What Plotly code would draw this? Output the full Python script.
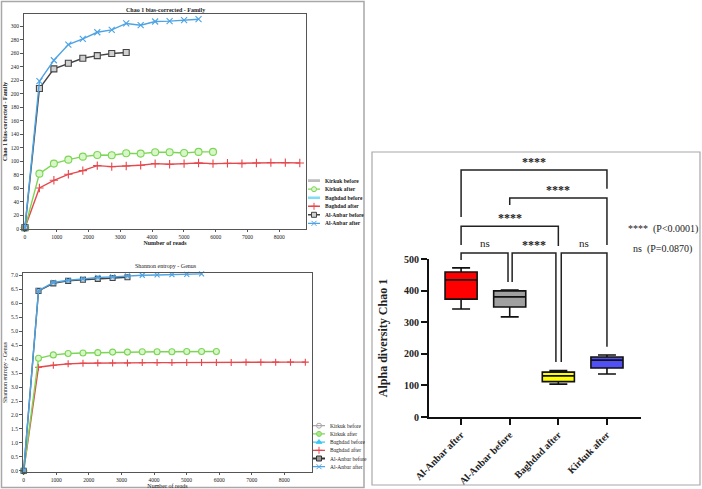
import plotly.graph_objects as go

W, H = 702, 489
FONT = "Liberation Serif"

def fx(p):
    return p / W

def fy(p):
    return 1 - p / H

# ---------------- data ----------------
depth = [0, 455, 910, 1365, 1820, 2275, 2730, 3185, 3640, 4095,
         4550, 5005, 5460, 5915, 6370, 6825, 7280, 7735, 8190, 8645]

chao_anbar_after = [2, 218.6, 249.6, 272.8, 281.2, 291, 294.5, 304, 301.4, 306.9, 307.4, 308.8, 310.3]
chao_anbar_before = [2, 207.7, 236.8, 245.2, 252.6, 256.5, 259.5, 261]
chao_kirkuk_after = [2, 81.9, 96.7, 102.6, 107, 109.5, 109, 112, 111.5, 113.5, 113.5, 112.5, 114, 114]
chao_baghdad_after = [2, 60.7, 72, 80.9, 86.3, 93.7, 92.3, 93.2, 94.2, 96.7, 95.7, 96.7, 97.7,
                      96.7, 97.2, 96.7, 97.7, 98.2, 98.2, 97.7]

sh_anbar_after = [0, 6.45, 6.74, 6.82, 6.87, 6.92, 6.94, 6.98, 7.0, 7.01, 7.02, 7.03, 7.05]
sh_anbar_before = [0, 6.44, 6.71, 6.80, 6.84, 6.87, 6.90, 6.93]
sh_kirkuk_after = [0, 4.03, 4.15, 4.20, 4.22, 4.23, 4.25, 4.25, 4.26, 4.26, 4.26, 4.27, 4.27, 4.27]
sh_baghdad_after = [0, 3.71, 3.78, 3.83, 3.85, 3.86, 3.86, 3.86, 3.875, 3.875, 3.875, 3.88, 3.88,
                    3.88, 3.88, 3.885, 3.885, 3.89, 3.89, 3.89]

legend_names = ["Kirkuk before", "Kirkuk after", "Baghdad before",
                "Baghdad after", "Al-Anbar before", "Al-Anbar after"]

box_categories = ["Al-Anbar after", "Al-Anbar before", "Baghdad after", "Kirkuk after"]
box_min = [342, 317, 104, 136]
box_q1 = [373, 348, 112, 155]
box_median = [434, 380, 130, 180]
box_q3 = [459, 399, 142, 190]
box_max = [472, 402, 147, 196]
box_colors = ["#FF0000", "#A0A0A0", "#FFFF00", "#5050F5"]

# comparisons: (left x, right x, bar level, left leg end, right leg end, label)
comparisons = [
    (0.0, 3.0, 782, 633, 722, "****"),
    (1.0, 3.0, 693, 671, 544, "****"),
    (0.0, 2.0, 604, 544, 541, "****"),
    (0.0, 0.965, 519, 497, 427, "ns"),
    (1.05, 1.95, 519, 427, 174, "****"),
    (2.06, 3.0, 519, 174, 222, "ns"),
]

# ---------------- styles ----------------
C_BLUE = "#4DA3E3"
C_DARK = "#444444"
C_GREEN = "#7CD655"
C_RED = "#E5484D"
C_GREY = "#BDBDBD"
C_CYAN = "#7FDDF5"

fig = go.Figure()

def line_trace(x, y, color, symbol, xa, ya, msize=6, mfill=None, lw=1.4):
    return go.Scatter(
        x=x, y=y, mode="lines+markers", xaxis=xa, yaxis=ya, showlegend=False,
        line=dict(color=color, width=lw),
        marker=dict(symbol=symbol, size=msize, color=mfill if mfill else color,
                    line=dict(color=color, width=1.1)),
        cliponaxis=False, hoverinfo="skip")

# Chart 1: Chao1 Family
fig.add_trace(line_trace(depth[:len(chao_baghdad_after)], chao_baghdad_after, C_RED, "cross-thin-open", "x", "y"))
fig.add_trace(line_trace(depth[:len(chao_kirkuk_after)], chao_kirkuk_after, C_GREEN, "circle", "x", "y", 7, "#D9F5CA"))
fig.add_trace(line_trace(depth[:len(chao_anbar_before)], chao_anbar_before, C_DARK, "square", "x", "y", 6, "#D0D0D0"))
fig.add_trace(line_trace(depth[:len(chao_anbar_after)], chao_anbar_after, C_BLUE, "x-thin-open", "x", "y"))

# Chart 2: Shannon Genus
fig.add_trace(line_trace(depth[:len(sh_baghdad_after)], sh_baghdad_after, C_RED, "cross-thin-open", "x2", "y2", 5))
fig.add_trace(line_trace(depth[:len(sh_kirkuk_after)], sh_kirkuk_after, C_GREEN, "circle", "x2", "y2", 6, "#D9F5CA"))
fig.add_trace(line_trace(depth[:len(sh_anbar_before)], sh_anbar_before, C_DARK, "square", "x2", "y2", 5, "#D0D0D0"))
fig.add_trace(line_trace(depth[:len(sh_anbar_after)], sh_anbar_after, C_BLUE, "x-thin-open", "x2", "y2", 5))

# Manual legends (legend axes measured in pixels: symbol 0..12, label from 15)
leg1 = [
    (C_GREY, None, None, 2.6),
    (C_GREEN, "circle", "#D9F5CA", 1.3),
    (C_CYAN, None, None, 2.6),
    (C_RED, "cross-thin-open", None, 1.3),
    (C_DARK, "square", "#D0D0D0", 1.6),
    (C_BLUE, "x-thin-open", None, 1.3),
]
leg2 = [
    ("#A8A8A8", "circle-open", None, 1.2),
    (C_GREEN, "circle", "#A8E890", 1.3),
    ("#3DC8F0", "triangle-up", None, 1.2),
    (C_RED, "cross-thin-open", None, 1.2),
    ("#333333", "square", "#999999", 2.0),
    (C_BLUE, "x-thin-open", None, 1.2),
]
for (xa, ya, spec, bold) in [("x5", "y5", leg1, True), ("x6", "y6", leg2, False)]:
    for i, (col, sym, fill, lw) in enumerate(spec):
        fig.add_trace(go.Scatter(x=[0, 12], y=[i, i], mode="lines", xaxis=xa, yaxis=ya,
                                 line=dict(color=col, width=lw), showlegend=False,
                                 cliponaxis=False, hoverinfo="skip"))
        if sym:
            fig.add_trace(go.Scatter(x=[6], y=[i], mode="markers", xaxis=xa, yaxis=ya,
                                     marker=dict(symbol=sym, size=5, color=fill if fill else col,
                                                 line=dict(color=col, width=1)),
                                     showlegend=False, cliponaxis=False, hoverinfo="skip"))
        fig.add_annotation(x=15, y=i, xref=xa, yref=ya, showarrow=False,
                           xanchor="left", yanchor="middle",
                           text=f"<b>{legend_names[i]}</b>" if bold else legend_names[i],
                           font=dict(family=FONT, size=5.5, color="#222"))

# Box plot
for i, cat in enumerate(box_categories):
    fig.add_trace(go.Box(
        x=[i], q1=[box_q1[i]], median=[box_median[i]], q3=[box_q3[i]],
        lowerfence=[box_min[i]], upperfence=[box_max[i]], name=cat,
        xaxis="x3", yaxis="y3", width=0.66, whiskerwidth=0.56,
        fillcolor=box_colors[i], line=dict(color="#111111", width=1.6),
        boxpoints=False, showlegend=False, hoverinfo="skip"))

# Significance brackets
for (xl, xr, bar, lb, rb, lab) in comparisons:
    fig.add_trace(go.Scatter(
        x=[xl, xl, xr, xr], y=[lb, bar, bar, rb], mode="lines",
        xaxis="x3", yaxis="y4", line=dict(color="#222222", width=1.5),
        showlegend=False, cliponaxis=False, hoverinfo="skip"))
    if lab == "****":
        fig.add_annotation(x=(xl + xr) / 2, y=bar, xref="x3", yref="y4", text="<b>****</b>",
                           showarrow=False, xanchor="center", yanchor="bottom", yshift=-1,
                           font=dict(family=FONT, size=12, color="#222"))
    else:
        fig.add_annotation(x=(xl + xr) / 2, y=bar, xref="x3", yref="y4", text="ns",
                           showarrow=False, xanchor="center", yanchor="bottom", yshift=2,
                           font=dict(family=FONT, size=11, color="#222"))

# ---------------- layout ----------------
small = dict(family=FONT, size=5.5, color="#222")
frame = dict(showline=True, mirror=True, linecolor="#555", linewidth=1, ticks="outside",
             ticklen=3, tickwidth=1, tickcolor="#555", showgrid=False, zeroline=False,
             tickfont=small, automargin=False)
xframe = dict(frame, ticklen=2)

fig.update_layout(
    template="none",
    width=W, height=H, margin=dict(l=0, r=0, t=0, b=0, pad=0), autosize=False,
    paper_bgcolor="white", plot_bgcolor="rgba(0,0,0,0)",
    font=dict(family=FONT), showlegend=False,
    xaxis=dict(domain=[fx(24), fx(306)], range=[-30, 8840], anchor="y",
               tickvals=[0, 1000, 2000, 3000, 4000, 5000, 6000, 7000, 8000],
               title=dict(text="<b>Number of reads</b>", font=dict(family=FONT, size=6, color="#222"), standoff=0),
               **xframe),
    yaxis=dict(domain=[fy(229), fy(14)], range=[0, 318], anchor="x", dtick=20,
               title=dict(text="<b>Chao 1 bias-corrected - Family</b>", font=dict(family=FONT, size=6, color="#222"), standoff=2),
               **frame),
    xaxis2=dict(domain=[fx(23), fx(312)], range=[-21, 8850], anchor="y2",
                tickvals=[0, 1000, 2000, 3000, 4000, 5000, 6000, 7000, 8000],
                title=dict(text="Number of reads", font=dict(family=FONT, size=6, color="#222"), standoff=0),
                **xframe),
    yaxis2=dict(domain=[fy(472), fy(273)], range=[-0.04, 7.08], anchor="x2", dtick=0.5,
                tickformat=".1f",
                title=dict(text="Shannon entropy - Genus", font=dict(family=FONT, size=6, color="#222"), standoff=2),
                **frame),
    xaxis3=dict(domain=[fx(429), fx(641)], range=[-0.66, 3.70], anchor="y3",
                tickvals=[0, 1, 2, 3], ticktext=box_categories, tickangle=-45,
                showline=True, linecolor="#111", linewidth=2, ticks="outside", ticklen=6,
                tickwidth=2, tickcolor="#111", showgrid=False, zeroline=False, automargin=False,
                tickfont=dict(family=FONT, size=10, color="#222", weight="bold")),
    yaxis3=dict(domain=[fy(417), fy(259)], range=[0, 500], anchor="x3",
                tickvals=[0, 100, 200, 300, 400, 500],
                showline=True, linecolor="#111", linewidth=2, ticks="outside", ticklen=6,
                tickwidth=2, tickcolor="#111", showgrid=False, zeroline=False, automargin=False,
                tickfont=dict(family=FONT, size=10, color="#222", weight="bold"),
                title=dict(text="Alpha diversity Chao 1", standoff=14,
                           font=dict(family=FONT, size=12, color="#222", weight="bold"))),
    yaxis4=dict(domain=[fy(417), fy(155)], range=[0, 829.1], anchor="x3", visible=False,
                automargin=False),
    xaxis5=dict(domain=[fx(308), fx(364)], range=[0, 56], anchor="y5", visible=False, automargin=False),
    yaxis5=dict(domain=[fy(227.6), fy(176.4)], range=[5.5, -0.5], anchor="x5", visible=False, automargin=False),
    xaxis6=dict(domain=[fx(313), fx(364)], range=[0, 51], anchor="y6", visible=False, automargin=False),
    yaxis6=dict(domain=[fy(470.8), fy(421.6)], range=[5.5, -0.5], anchor="x6", visible=False, automargin=False),
)

# Chart titles
fig.add_annotation(x=fx(165), y=fy(10), xref="paper", yref="paper", showarrow=False,
                   xanchor="center", yanchor="middle",
                   text="<b>Chao 1 bias-corrected - Family</b>", font=dict(family=FONT, size=6, color="#222"))
fig.add_annotation(x=fx(166), y=fy(266), xref="paper", yref="paper", showarrow=False,
                   xanchor="center", yanchor="middle",
                   text="Shannon entropy - Genus", font=dict(family=FONT, size=6, color="#222"))

# P-value key
fig.add_annotation(x=fx(663), y=fy(229), xref="paper", yref="paper", showarrow=False,
                   xanchor="center", yanchor="middle",
                   text="****  (P&lt;0.0001)", font=dict(family=FONT, size=10, color="#222"))
fig.add_annotation(x=fx(662), y=fy(249), xref="paper", yref="paper", showarrow=False,
                   xanchor="center", yanchor="middle",
                   text="ns  (P=0.0870)", font=dict(family=FONT, size=10, color="#222"))

# Panel frames
fig.add_shape(type="rect", xref="paper", yref="paper", x0=fx(1.5), x1=fx(364), y0=fy(487.5), y1=fy(1.5),
              line=dict(color="#A8A8A8", width=1.5))
fig.add_shape(type="rect", xref="paper", yref="paper", x0=fx(372), x1=fx(700), y0=fy(485), y1=fy(152),
              line=dict(color="#A8A8A8", width=1.2))

fig.write_html("out.html")
